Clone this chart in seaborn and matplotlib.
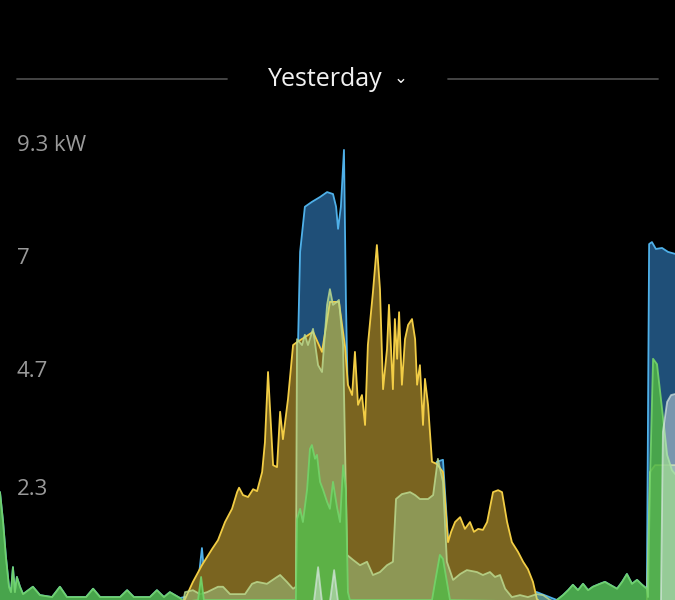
import matplotlib
matplotlib.use("Agg")
import matplotlib.pyplot as plt
import seaborn as sns
from matplotlib.lines import Line2D

# ── data (hours of day, kW) ──────────────────────────────────────────────
home_t = [0.00, 0.11, 0.21, 0.32, 0.39, 0.46, 0.53, 0.60, 0.71, 0.82, 1.17, 1.42,
          1.85, 2.13, 2.38, 3.06, 3.31, 3.56, 4.27, 4.52, 4.76, 5.33, 5.58, 5.83,
          6.04, 6.40, 7.00, 7.18, 7.32, 8.18, 9.24, 10.49, 10.60, 10.67, 10.84,
          11.09, 11.38, 11.63, 11.84, 11.95, 12.02, 12.12, 12.23, 12.30, 12.37,
          12.52, 15.29, 15.54, 15.75, 15.93, 16.07, 19.09, 19.80, 20.02, 20.20,
          20.37, 20.55, 20.73, 20.91, 21.08, 21.33, 21.51, 21.69, 21.94, 22.12,
          22.29, 22.47, 22.65, 22.83, 23.00, 23.08, 23.18, 23.32, 23.54, 23.75, 24.00]
home_kw = [2.24, 1.63, 0.92, 0.31, 0.20, 0.71, 0.20, 0.51, 0.31, 0.16, 0.31, 0.14,
           0.10, 0.31, 0.10, 0.10, 0.27, 0.10, 0.10, 0.24, 0.10, 0.10, 0.24, 0.10,
           0.20, 0.08, 0.16, 1.10, 0.20, 0.31, 0.41, 0.49, 5.36, 7.14, 8.06,
           8.16, 8.26, 8.36, 8.32, 8.06, 7.61, 8.06, 9.22, 6.12, 4.08,
           2.65, 2.65, 2.86, 2.90, 1.28, 0.51, 0.20, 0.04, 0.14, 0.24,
           0.35, 0.24, 0.37, 0.24, 0.31, 0.37, 0.41, 0.35, 0.27, 0.41,
           0.57, 0.37, 0.45, 0.35, 0.27, 7.30, 7.34, 7.20, 7.22, 7.14, 7.10]

solar_t = [0.00, 6.51, 6.58, 6.86, 7.18, 7.54, 7.75, 8.00, 8.25, 8.43, 8.50, 8.64,
           8.82, 9.00, 9.14, 9.32, 9.42, 9.53, 9.71, 9.85, 9.96, 10.06, 10.24,
           10.42, 10.56, 10.84, 11.13, 11.45, 11.73, 12.05, 12.27, 12.37, 12.52,
           12.62, 12.73, 12.87, 12.98, 13.08, 13.26, 13.40, 13.51, 13.62, 13.76,
           13.83, 13.97, 14.04, 14.12, 14.19, 14.29, 14.40, 14.51, 14.65, 14.76,
           14.83, 14.93, 15.04, 15.11, 15.22, 15.36, 15.54, 15.75, 15.93, 16.04,
           16.18, 16.36, 16.53, 16.71, 16.85, 17.00, 17.17, 17.32, 17.53, 17.71,
           17.85, 18.03, 18.20, 18.42, 18.60, 18.77, 18.95, 19.09, 19.20, 24.00]
solar_kw = [0.00, 0.00, 0.06, 0.41, 0.75, 1.08, 1.26, 1.63, 1.90, 2.24, 2.33, 2.18,
            2.14, 2.30, 2.26, 2.65, 3.26, 4.69, 2.79, 2.75, 3.88, 3.32, 4.14,
            5.24, 5.30, 5.40, 5.51, 5.10, 6.12, 6.12, 5.20, 4.43, 4.22,
            5.10, 4.02, 4.22, 3.61, 5.24, 6.32, 7.28, 6.38, 4.34, 5.16,
            6.06, 4.34, 5.77, 4.96, 5.91, 4.43, 5.36, 5.65, 5.77, 5.36,
            4.43, 4.83, 3.61, 4.55, 4.02, 2.86, 2.81, 2.65, 1.22, 1.43,
            1.63, 1.73, 1.49, 1.63, 1.43, 1.49, 1.47, 1.63, 2.24, 2.28,
            2.24, 1.63, 1.22, 1.02, 0.82, 0.67, 0.41, 0.06, 0.00, 0.00]

charge_t = [0.00, 6.51, 6.58, 6.86, 7.11, 7.36, 7.75, 7.93, 8.18, 8.71, 8.96, 9.14,
            9.49, 9.85, 9.96, 10.20, 10.42, 10.52, 10.56, 10.74, 10.84, 10.95,
            11.13, 11.31, 11.45, 11.63, 11.73, 11.84, 11.98, 12.05, 12.20, 12.34,
            12.55, 12.80, 13.05, 13.26, 13.51, 13.76, 13.97, 14.08, 14.29, 14.58,
            14.76, 14.93, 15.22, 15.40, 15.57, 15.75, 15.89, 16.11, 16.36, 16.60,
            16.96, 17.17, 17.42, 17.60, 17.78, 17.96, 18.20, 18.49, 18.77, 19.09,
            19.31, 19.56, 19.73, 23.00, 23.11, 23.29, 24.00]
charge_kw = [0.00, 0.00, 0.20, 0.24, 0.16, 0.20, 0.31, 0.31, 0.16, 0.16, 0.37, 0.41,
             0.37, 0.51, 0.55, 0.41, 0.27, 0.31, 5.36, 5.24, 5.45, 5.24,
             5.57, 4.83, 4.69, 6.06, 6.38, 6.06, 6.12, 6.16, 5.24, 0.96,
             0.86, 0.75, 0.82, 0.55, 0.61, 0.75, 0.82, 2.10, 2.20, 2.24,
             2.18, 2.10, 2.10, 2.18, 2.92, 2.45, 0.82, 0.45, 0.57, 0.65,
             0.61, 0.55, 0.61, 0.51, 0.55, 0.27, 0.10, 0.14, 0.10, 0.16,
             0.14, 0.04, 0.00, 0.00, 2.65, 2.79, 2.79]

pw_t = [0.00, 0.11, 0.21, 0.32, 0.39, 0.46, 0.53, 0.60, 0.71, 0.82, 1.17, 1.42,
        1.85, 2.13, 2.38, 3.06, 3.31, 3.56, 4.27, 4.52, 4.76, 5.33, 5.58, 5.83,
        6.04, 6.40, 6.55, 7.04, 7.15, 7.25, 10.52, 10.56, 10.67, 10.77, 10.92,
        11.02, 11.09, 11.20, 11.27, 11.38, 11.48, 11.63, 11.73, 11.84, 11.98,
        12.09, 12.20, 12.30, 12.37, 12.44, 15.36, 15.47, 15.64, 15.75, 15.89,
        16.00, 19.70, 19.80, 20.02, 20.20, 20.37, 20.55, 20.73, 20.91, 21.08,
        21.33, 21.51, 21.69, 21.94, 22.12, 22.29, 22.47, 22.65, 22.83, 23.00,
        23.04, 23.11, 23.22, 23.36, 23.54, 23.72, 23.89, 24.00]
pw_kw = [2.24, 1.63, 0.92, 0.31, 0.20, 0.71, 0.20, 0.51, 0.31, 0.16, 0.31, 0.14,
         0.10, 0.31, 0.10, 0.10, 0.27, 0.10, 0.10, 0.24, 0.10, 0.10, 0.24, 0.10,
         0.20, 0.08, 0.00, 0.04, 0.51, 0.04, 0.04, 1.69, 1.90, 1.63, 2.30,
         3.12, 3.20, 2.92, 3.00, 2.45, 2.30, 2.04, 1.90, 2.45, 1.94,
         1.63, 2.79, 2.30, 0.20, 0.04, 0.04, 0.41, 0.96, 0.88, 0.41,
         0.04, 0.00, 0.04, 0.14, 0.24, 0.35, 0.24, 0.37, 0.24, 0.31,
         0.37, 0.41, 0.35, 0.27, 0.41, 0.57, 0.37, 0.45, 0.35, 0.27,
         0.10, 2.45, 4.96, 4.85, 3.94, 3.00, 2.69, 2.61]

grid_t = [0.00, 11.16, 11.31, 11.45, 11.73, 11.88, 12.02, 23.50, 23.57, 23.72, 23.86, 24.00]
grid_kw = [0.00, 0.00, 0.71, 0.00, 0.00, 0.65, 0.00, 0.00, 3.47, 4.08, 4.22, 4.24]

ytick_vals = [2.3, 4.7, 7, 9.3]
ytick_labels = ["2.3", "4.7", "7", "9.3 kW"]
title = "Yesterday"


def layer(ax, t, kw, fill, line, alpha, lw=1.3, line_alpha=1.0, z=1):
    ax.fill_between(t, 0, kw, color=fill, alpha=alpha, lw=0, zorder=z)
    sns.lineplot(x=t, y=kw, ax=ax, color=line, lw=lw, alpha=line_alpha,
                 sort=False, estimator=None, zorder=z + 0.5)


def main():
    sns.set_theme(style="dark", rc={"axes.facecolor": "black", "figure.facecolor": "black"})
    plt.rcParams["font.family"] = ["Open Sans", "DejaVu Sans"]

    fig = plt.figure(figsize=(6.75, 6.0), dpi=100, facecolor="black")
    ax = fig.add_axes([0, 0, 1, 0.8])
    ax.set_facecolor("black")

    layer(ax, home_t, home_kw, "#1f4f78", "#4fb0e8", 1.0, z=1)
    layer(ax, solar_t, solar_kw, "#7a6420", "#f2cd45", 1.0, z=2)
    layer(ax, charge_t, charge_kw, "#a8e0a0", "#bcd98e", 0.42, line_alpha=0.85, z=3)
    layer(ax, pw_t, pw_kw, "#52b843", "#74d46a", 0.82, line_alpha=0.9, z=4)
    layer(ax, grid_t, grid_kw, "#e8eef0", "#d8e8e0", 0.45, line_alpha=0.7, z=5)

    ax.set_xlim(0, 24)
    ax.set_ylim(0.04, 9.83)
    ax.set_axis_off()

    for v, lab in zip(ytick_vals, ytick_labels):
        ax.text(0.6, v, lab, color="#9a9a9a", fontsize=16, va="center", ha="left", zorder=10)

    # header with separator lines
    ty = 1 - 79 / 600
    fig.text(0.482, ty, title, color="#f2f2f2", fontsize=18, ha="center", va="center")
    fig.text(0.594, ty + 0.002, "⌄", color="#f2f2f2", fontsize=12, ha="center", va="center",
             family=["DejaVu Sans"])
    for x0, x1 in [(17 / 675, 227 / 675), (448 / 675, 658 / 675)]:
        fig.add_artist(Line2D([x0, x1], [ty, ty], color="#4a4a4a", lw=1.3))

    fig.savefig("out.png", dpi=100, facecolor="black")
    plt.close(fig)


if __name__ == "__main__":
    main()
